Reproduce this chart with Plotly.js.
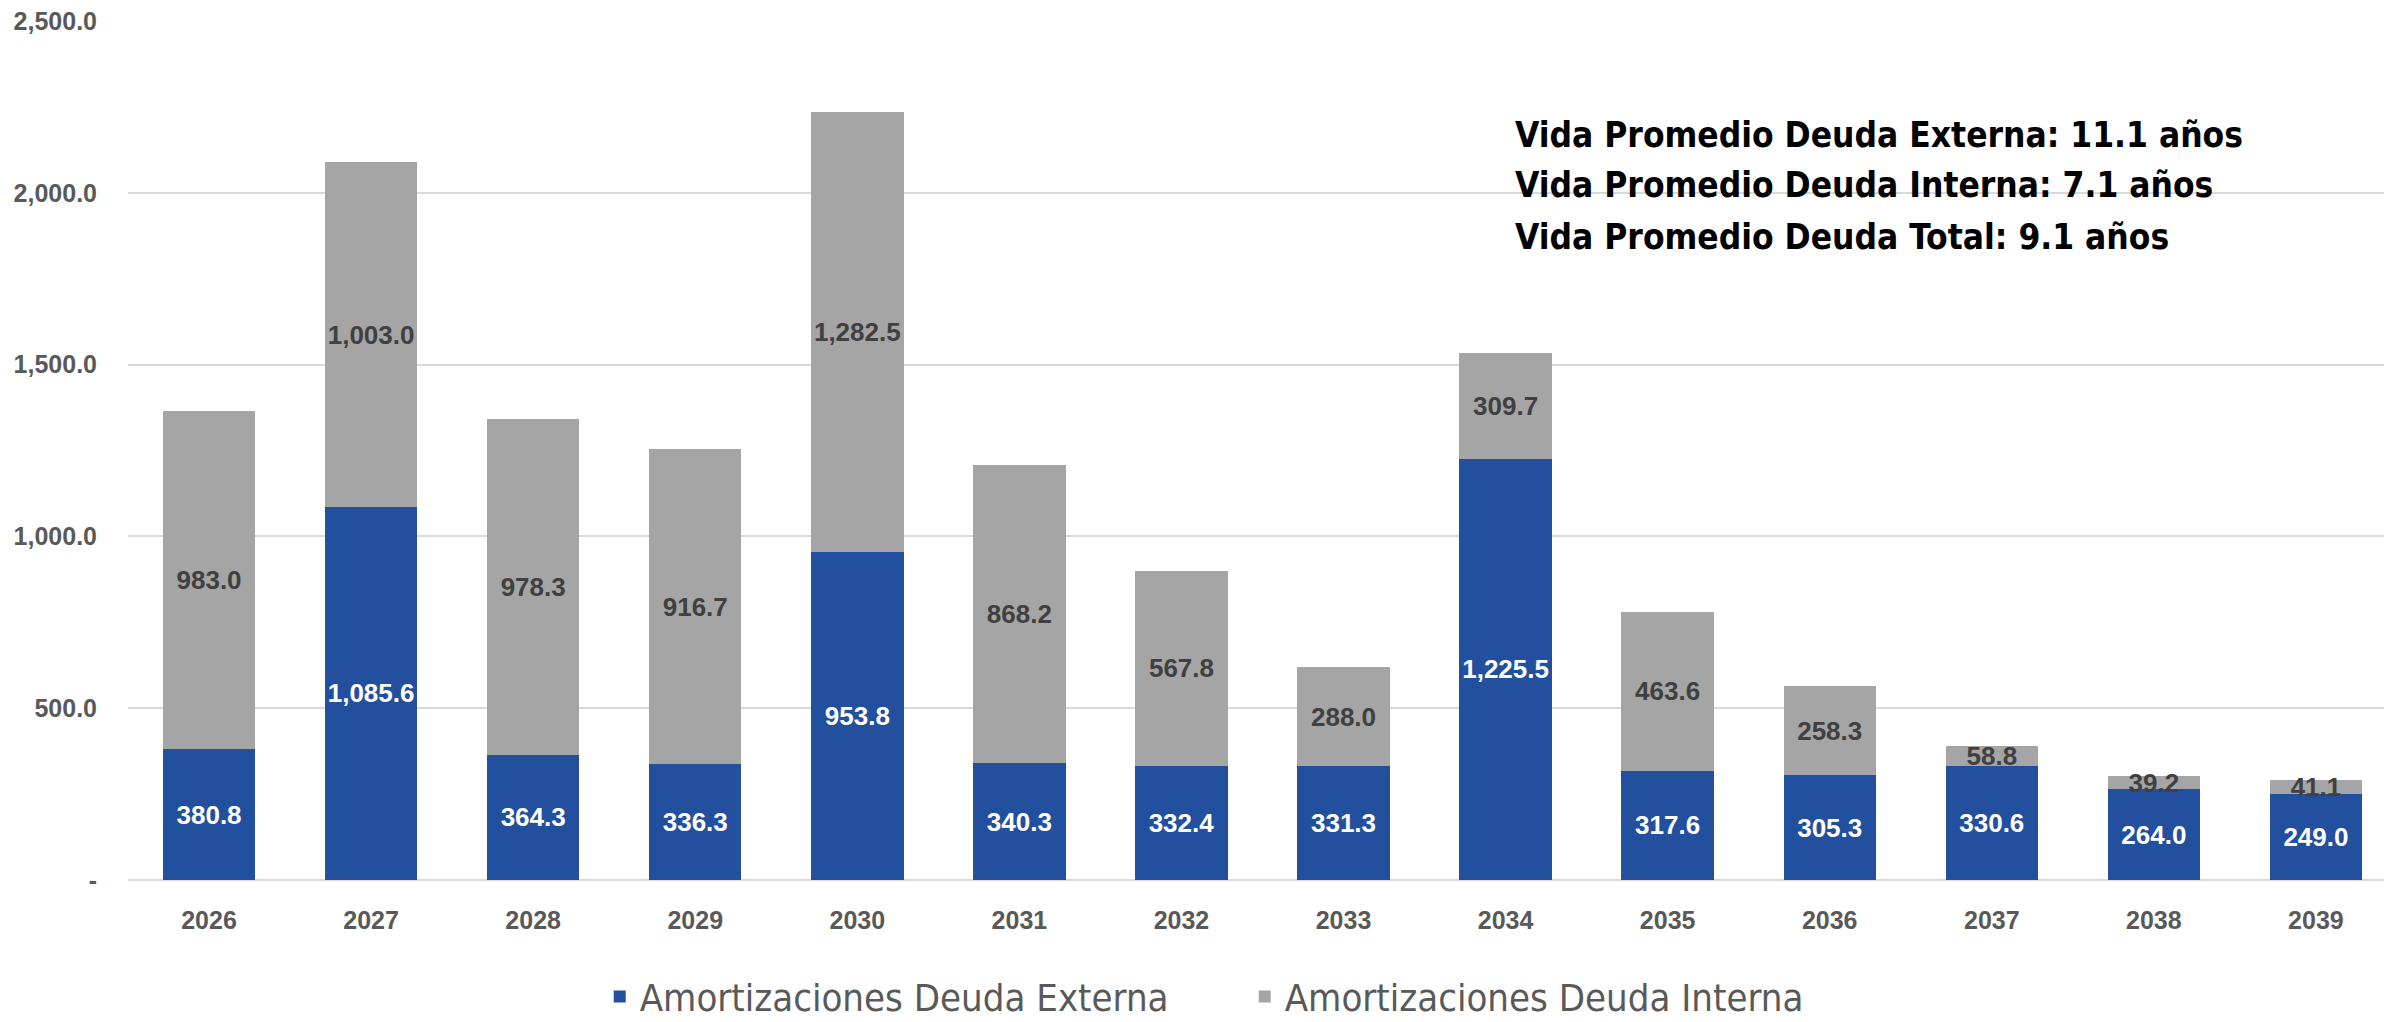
<!DOCTYPE html>
<html>
<head>
<meta charset="utf-8">
<script src="https://cdn.plot.ly/plotly-3.0.1.min.js"></script>
<style>
  html, body { margin: 0; padding: 0; background: #fff; }
  #plot { width: 2384px; height: 1022px; }
</style>
</head>
<body>
<div id="plot"></div>
<script>
var anios = ['2026', '2027', '2028', '2029', '2030', '2031', '2032',
             '2033', '2034', '2035', '2036', '2037', '2038', '2039'];
var externa = [380.8, 1085.6, 364.3, 336.3, 953.8, 340.3, 332.4,
               331.3, 1225.5, 317.6, 305.3, 330.6, 264.0, 249.0];
var interna = [983.0, 1003.0, 978.3, 916.7, 1282.5, 868.2, 567.8,
               288.0, 309.7, 463.6, 258.3, 58.8, 39.2, 41.1];
var ticksY = [0, 500, 1000, 1500, 2000, 2500];
var ticksYTexto = ['-', '500.0', '1,000.0', '1,500.0', '2,000.0', '2,500.0'];
var notas = ['Vida Promedio Deuda Externa: 11.1 años',
             'Vida Promedio Deuda Interna: 7.1 años',
             'Vida Promedio Deuda Total: 9.1 años'];

var angosta = 'Liberation Sans Narrow, DejaVu Sans Condensed, Arial Narrow, sans-serif';
var arial = 'Liberation Sans, Arial, sans-serif';

var barExterna = {
  x: anios,
  y: externa,
  type: 'bar',
  name: 'Amortizaciones Deuda Externa',
  marker: { color: '#23509e' },
  width: 0.57,
  texttemplate: '%{y:,.1f}',
  textposition: 'inside',
  insidetextanchor: 'middle',
  constraintext: 'none',
  textangle: 0,
  textfont: { family: arial, size: 26, color: '#ffffff', weight: 'bold' },
  hoverinfo: 'skip'
};

var barInterna = {
  x: anios,
  y: interna,
  type: 'bar',
  name: 'Amortizaciones Deuda Interna',
  marker: { color: '#a5a5a5' },
  width: 0.57,
  texttemplate: '%{y:,.1f}',
  textposition: 'inside',
  insidetextanchor: 'middle',
  constraintext: 'none',
  textangle: 0,
  textfont: { family: arial, size: 26, color: '#404040', weight: 'bold' },
  hoverinfo: 'skip'
};

// three separate notes so the line spacing matches the reference
var filasY = [0.8673, 0.8091, 0.7485];
var notasAnot = notas.map(function (t, i) {
  return {
    xref: 'paper',
    yref: 'paper',
    x: 0.614,
    y: filasY[i],
    xanchor: 'left',
    yanchor: 'middle',
    showarrow: false,
    text: t,
    font: { family: angosta, size: 35, color: '#000000', weight: 'bold' }
  };
});

var layout = {
  width: 2384,
  height: 1022,
  barmode: 'stack',
  paper_bgcolor: '#ffffff',
  plot_bgcolor: '#ffffff',
  margin: { l: 128, r: 0, t: 21, b: 142, autoexpand: false },
  xaxis: {
    type: 'category',
    range: [-0.5, 13.42],
    showgrid: false,
    showline: false,
    zeroline: false,
    ticks: '',
    ticklabelstandoff: 23,
    tickfont: { family: arial, size: 25, color: '#595959', weight: 'bold' }
  },
  yaxis: {
    range: [0, 2500],
    tickvals: ticksY,
    ticktext: ticksYTexto,
    showgrid: true,
    gridcolor: '#d9d9d9',
    gridwidth: 2,
    zeroline: true,
    zerolinecolor: '#d9d9d9',
    zerolinewidth: 2,
    showline: false,
    ticks: '',
    ticklabelstandoff: 30,
    tickfont: { family: arial, size: 25, color: '#595959', weight: 'bold' }
  },
  showlegend: true,
  legend: {
    orientation: 'h',
    traceorder: 'normal',
    x: 0.495,
    xanchor: 'center',
    y: -0.136,
    yanchor: 'middle',
    entrywidth: 600,
    font: { family: angosta, size: 38, color: '#595959' },
    itemsizing: 'constant'
  },
  annotations: notasAnot
};

Plotly.newPlot('plot', [barExterna, barInterna], layout, { displayModeBar: false, staticPlot: true });
</script>
</body>
</html>
